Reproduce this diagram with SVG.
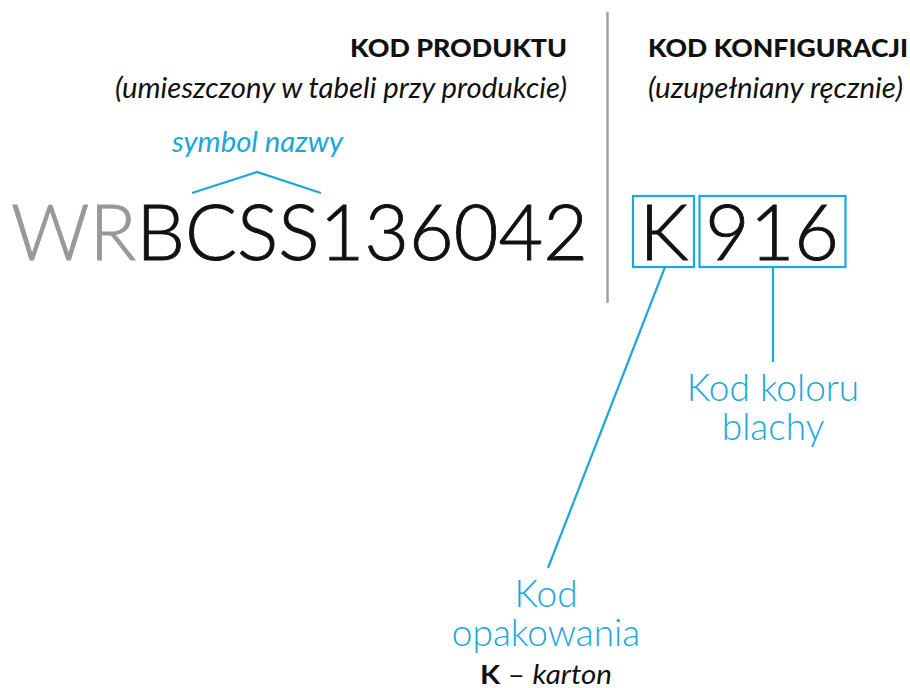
<svg xmlns="http://www.w3.org/2000/svg" width="910" height="688" viewBox="0 0 910 688">
<style>
.hb{font-family:Lato,"Liberation Sans",sans-serif;font-weight:900;font-size:25px;fill:#111}
.hi{font-family:Lato,"Liberation Sans",sans-serif;font-style:italic;font-size:28px;fill:#111}
.big{font-family:Lato,"Liberation Sans",sans-serif;font-weight:300;font-size:77px;stroke-width:0.9}
.lbl{font-family:Lato,"Liberation Sans",sans-serif;font-weight:300;font-size:37px;fill:#1aa7dc;text-anchor:middle}
.blue{stroke:#1aa7dc;stroke-width:2.2;fill:none}
</style>
<rect width="910" height="688" fill="#fff"/>
<line x1="607.5" y1="12" x2="607.5" y2="303" stroke="#a0a0a0" stroke-width="2.5"/>
<g id="headers">
<text class="hb" x="350" y="57" textLength="217" lengthAdjust="spacingAndGlyphs">KOD PRODUKTU</text>
<text class="hi" x="115" y="98" textLength="452" lengthAdjust="spacingAndGlyphs">(umieszczony w tabeli przy produkcie)</text>
<text class="hb" x="648" y="57" textLength="260" lengthAdjust="spacingAndGlyphs">KOD KONFIGURACJI</text>
<text class="hi" x="648" y="98" textLength="255" lengthAdjust="spacingAndGlyphs">(uzupełniany ręcznie)</text>
</g>
<g id="symbol">
<text x="172" y="152" textLength="171" lengthAdjust="spacingAndGlyphs" style="font-family:Lato,'Liberation Sans',sans-serif;font-style:italic;font-size:28px;fill:#1aa7dc">symbol nazwy</text>
<polyline class="blue" points="192,193 257,172 321,193"/>
</g>
<g id="code">
<text class="big" x="11" y="260" textLength="577" lengthAdjust="spacingAndGlyphs"><tspan fill="#999" stroke="#999">WR</tspan><tspan fill="#111" stroke="#111">BCSS136042</tspan></text>
</g>
<g id="k-box">
<rect class="blue" x="633" y="196" width="61" height="71"/>
<text class="big" x="664" y="260" text-anchor="middle" fill="#111" stroke="#111">K</text>
</g>
<g id="color-box">
<rect class="blue" x="699.5" y="196" width="146" height="71"/>
<text class="big" x="772" y="260" text-anchor="middle" fill="#111" stroke="#111">916</text>
</g>
<g id="connectors">
<line class="blue" x1="665" y1="267" x2="548" y2="568"/>
<line class="blue" x1="773" y1="267" x2="773" y2="362"/>
</g>
<g id="label-color">
<text class="lbl" x="773" y="401">Kod koloru</text>
<text class="lbl" x="773" y="440">blachy</text>
</g>
<g id="label-pack">
<text class="lbl" x="546" y="607">Kod</text>
<text class="lbl" x="546" y="646">opakowania</text>
<text x="480" y="684" textLength="132" lengthAdjust="spacingAndGlyphs" style="font-family:Lato,'Liberation Sans',sans-serif;font-size:27px;fill:#111"><tspan font-weight="700">K</tspan> – <tspan font-style="italic">karton</tspan></text>
</g>
</svg>
